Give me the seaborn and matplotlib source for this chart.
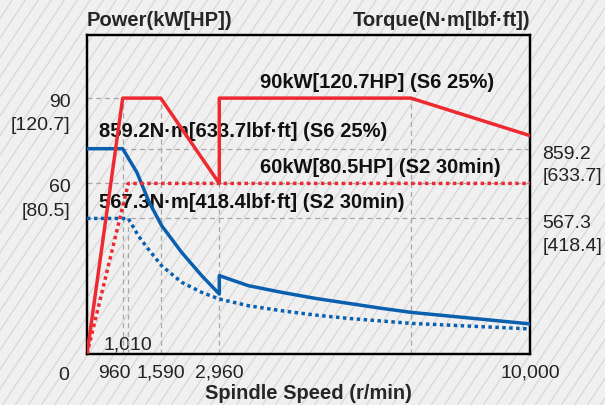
import matplotlib
matplotlib.use("Agg")
import matplotlib.pyplot as plt
from matplotlib.lines import Line2D
from matplotlib.transforms import ScaledTranslation
import numpy as np
import seaborn as sns

# Power curves (kW)
rpm_p_s6 = [0, 960, 1590, 2960, 2960, 7300, 10000]
kw_s6 = [0, 90, 90, 60, 90, 90, 76.8]
rpm_p_s2 = [0, 1010, 10000]
kw_s2 = [0, 60, 60]

# Torque curves (N·m)
rpm_t_s6 = [0, 960, 1164, 1384, 1613, 2081, 2548, 2960, 2960, 3617, 4374, 5129, 5884, 6640, 7320, 10000]
nm_s6 = [859.2, 859.2, 760, 635, 537, 425, 328, 251, 328, 286, 258, 233, 212, 191, 174, 126]
rpm_t_s2 = [0, 1010, 1189, 1368, 1613, 2081, 2548, 2960, 3617, 4374, 5129, 5884, 6640, 7320, 10000]
nm_s2 = [567.3, 567.3, 495, 439, 369, 300, 258, 230, 202, 181, 163, 149, 138, 128, 105]

# ticks / guide lines
x_ticks = [960, 1590, 2960, 10000]
x_ticklabels = ["960", "1,590", "2,960", "10,000"]
power_ticks = [60, 90]
power_ticklabels = ["60\n[80.5]", "90\n[120.7]"]
torque_ticks = [567.3, 859.2]
torque_ticklabels = ["567.3\n[418.4]", "859.2\n[633.7]"]
guide_rpm = [960, 1590, 2960, 7300]

# the speed axis of the original is schematic (not strictly linear)
scale_rpm = [0, 960, 1010, 1590, 2960, 10000]
scale_pos = [0, 35.7, 41.3, 73.7, 132.3, 443]


def fwd(v):
    return np.interp(v, scale_rpm, scale_pos)


def inv(v):
    return np.interp(v, scale_pos, scale_rpm)


RED = "#ee2a30"
BLUE = "#0a5fae"
GRID = "#a8a8a8"
TXT = "#222222"

sns.set_theme(style="white")
plt.rcParams["font.family"] = ["Liberation Sans", "DejaVu Sans"]

W, H = 605, 406
fig = plt.figure(figsize=(W / 100, H / 100), dpi=100)
fig.patch.set_facecolor("#f0f0f0")

# diagonal hatch of the background
step, slope = 13, 1.5
for c in np.arange(-H / slope, W + step, step):
    fig.add_artist(Line2D([c / W, (c + H / slope) / W], [0, 1], color="#d5d5d5", lw=0.8, zorder=-5))


def px(dx, dy):
    return ScaledTranslation(dx / 100, dy / 100, fig.dpi_scale_trans)


ax = fig.add_axes([87 / W, 1 - 355 / H, 443 / W, 319 / H])
ax.patch.set_alpha(0)
ax.set_xscale("function", functions=(fwd, inv))
ax2 = ax.twinx()

ax.set_xlim(0, 10000)
ax.set_ylim(0, 112.2)
ax2.set_ylim(0, 1335)

# dashed guide lines
dash = dict(color=GRID, lw=0.9, ls=(0, (4, 3)), zorder=1)
ax.hlines([90], 0, 960, **dash)
ax.hlines([60], 0, 10000, **dash)
ax.vlines(guide_rpm, 0, 90, **dash)
ax2.hlines(torque_ticks, 0, 10000, **dash)
ax2.vlines([1010], 0, 567.3, **dash)

# torque curves
sns.lineplot(x=rpm_t_s2, y=nm_s2, ax=ax2, color=BLUE, lw=2.5, estimator=None, sort=False,
             linestyle=(0, (1, 1)), dash_capstyle="butt", zorder=3)
sns.lineplot(x=rpm_t_s6, y=nm_s6, ax=ax2, color=BLUE, lw=2.5, estimator=None, sort=False, zorder=3)

# power curves
sns.lineplot(x=rpm_p_s2, y=kw_s2, ax=ax2, color=RED, lw=2.5, estimator=None, sort=False,
             linestyle=(0, (1, 1)), dash_capstyle="butt", zorder=4,
             transform=ax.transData)
sns.lineplot(x=rpm_p_s6, y=kw_s6, ax=ax2, color=RED, lw=2.5, estimator=None, sort=False,
             zorder=4, transform=ax.transData)

ax.set_xticks(x_ticks)
ax.set_xticklabels(x_ticklabels)
ax.set_yticks(power_ticks)
ax.set_yticklabels(power_ticklabels, va="top", multialignment="right", linespacing=1.52)
ax2.set_yticks(torque_ticks)
ax2.set_yticklabels(torque_ticklabels, va="top", multialignment="left", linespacing=1.42)
ax.tick_params(axis="x", length=0, pad=7, labelsize=14, labelcolor=TXT)
ax.tick_params(axis="y", length=0, pad=12, labelsize=14, labelcolor=TXT)
ax2.tick_params(axis="y", length=0, pad=9, labelsize=14, labelcolor=TXT)
ax2.set_ylabel("")

lab960 = ax.get_xticklabels()[0]
lab960.set_transform(lab960.get_transform() + px(-8.5, 0))
for lab in ax.get_yticklabels():
    lab.set_transform(lab.get_transform() + px(0, 5.5))
for lab in ax2.get_yticklabels():
    lab.set_transform(lab.get_transform() + px(0, 4))

for a in (ax, ax2):
    for s in a.spines.values():
        s.set_color("black")
        s.set_linewidth(1.6)

ax.text(-0.04, -0.037, "0", transform=ax.transAxes, ha="right", va="top", fontsize=14, color=TXT)
ax.text(1010, 1.8, "1,010", ha="center", va="baseline", fontsize=14, color=TXT, zorder=5)

# annotations
bold = dict(fontsize=14.5, fontweight="bold", color="#111111", va="center", ha="left", zorder=6)
ax.text(3880, 95.7, "90kW[120.7HP] (S6 25%)", **bold)
ax.text(330, 78.6, "859.2N·m[633.7lbf·ft] (S6 25%)", **bold)
ax.text(3880, 65.9, "60kW[80.5HP] (S2 30min)", **bold)
ax.text(330, 53.8, "567.3N·m[418.4lbf·ft] (S2 30min)", **bold)

fig.text(87 / W, 1 - 20 / H, "Power(kW[HP])", ha="left", va="center", fontsize=14.5, fontweight="bold")
fig.text(530 / W, 1 - 20 / H, "Torque(N·m[lbf·ft])", ha="right", va="center", fontsize=14.5, fontweight="bold")
fig.text(308.5 / W, 1 - 394 / H, "Spindle Speed (r/min)", ha="center", va="center", fontsize=14.5,
         fontweight="bold")

fig.savefig("out.png", dpi=100, facecolor=fig.get_facecolor())
